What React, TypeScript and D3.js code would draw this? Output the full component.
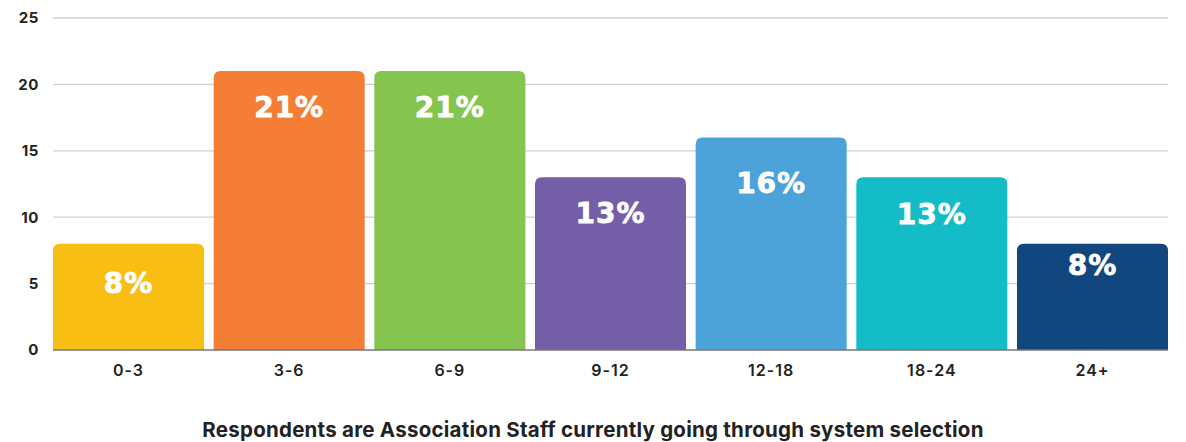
import React from "react";
import * as d3 from "d3";

// tenure buckets (years) and respondent counts
const categories = ["0-3", "3-6", "6-9", "9-12", "12-18", "18-24", "24+"];
const values = [8, 21, 21, 13, 16, 13, 8];
const percentLabels = ["8%", "21%", "21%", "13%", "16%", "13%", "8%"];
const yTicks = [0, 5, 10, 15, 20, 25];
const barColors = ["#F9BE14", "#F47E35", "#84C44F", "#745EA8", "#4BA3DA", "#14BCC8", "#12467E"];
const caption = "Respondents are Association Staff currently going through system selection";

// baseline of each in-bar label, measured down from the bar top
const labelDy = [49, 46, 46, 46, 55, 47, 31];

const width = 1186;
const height = 442;
const margin = { top: 18, right: 18, bottom: 92, left: 53 };

/**
 * Path for a bar with rounded top corners only
 */
const topRoundedRect = (x: number, y: number, w: number, h: number, r: number): string =>
  `M${x},${y + h}V${y + r}Q${x},${y} ${x + r},${y}H${x + w - r}Q${x + w},${y} ${x + w},${y + r}V${y + h}Z`;

export default function App(): React.ReactElement {
  const x = d3
    .scaleBand<string>()
    .domain(categories)
    .range([margin.left, width - margin.right])
    .paddingInner(0.06)
    .paddingOuter(0);

  const y = d3
    .scaleLinear()
    .domain([0, 25])
    .range([height - margin.bottom, margin.top]);

  const font = "Inter, 'DejaVu Sans', sans-serif";

  return (
    <svg
      width={width}
      height={height}
      style={{ position: "absolute", left: 0, top: 0, background: "#fff" }}
    >
      <g>
        {yTicks.map((t) => (
          <g key={t}>
            {t > 0 && (
              <line
                x1={margin.left}
                x2={width - margin.right}
                y1={y(t)}
                y2={y(t)}
                stroke="#d0d0d0"
                strokeWidth={1.3}
              />
            )}
            <text
              x={39}
              y={y(t)}
              dy="0.36em"
              textAnchor="end"
              fontFamily={font}
              fontSize={15}
              fontWeight={700}
              letterSpacing={0.6}
              fill="#222"
            >
              {t}
            </text>
          </g>
        ))}
      </g>
      <g>
        {categories.map((c, i) => {
          const bx = x(c) as number;
          const by = y(values[i]);
          const bh = y(0) - by;
          return (
            <g key={c}>
              <path d={topRoundedRect(bx, by, x.bandwidth(), bh, 7)} fill={barColors[i]} />
              <text
                x={bx + x.bandwidth() / 2}
                y={by + labelDy[i]}
                textAnchor="middle"
                fontFamily="'DejaVu Sans', sans-serif"
                fontSize={28}
                fontWeight={700}
                letterSpacing={1}
                fill="#fff"
                stroke="#fff"
                strokeWidth={0.8}
              >
                {percentLabels[i]}
              </text>
              <text
                x={bx + x.bandwidth() / 2}
                y={y(0) + 26}
                textAnchor="middle"
                fontFamily={font}
                fontSize={16}
                fontWeight={600}
                letterSpacing={1}
                fill="#222"
              >
                {c}
              </text>
            </g>
          );
        })}
      </g>
      <line
        x1={margin.left}
        x2={width - margin.right}
        y1={y(0)}
        y2={y(0)}
        stroke="#777"
        strokeWidth={1.3}
      />
      <text
        x={593}
        y={437}
        textAnchor="middle"
        fontFamily={font}
        fontSize={20.5}
        fontWeight={700}
        letterSpacing={0.25}
        fill="#222"
      >
        {caption}
      </text>
    </svg>
  );
}
